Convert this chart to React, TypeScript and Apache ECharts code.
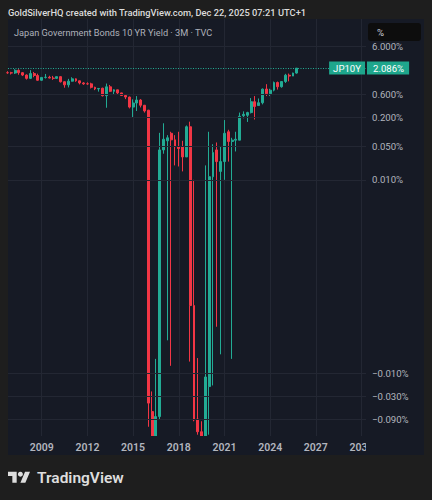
import React, { useEffect, useRef } from "react";
import * as echarts from "echarts";

// ---- Data (Japan 10Y government bond yield, quarterly candles, %) ----
const quarters = [
  "2006-Q4",
  "2007-Q1", "2007-Q2", "2007-Q3", "2007-Q4",
  "2008-Q1", "2008-Q2", "2008-Q3", "2008-Q4",
  "2009-Q1", "2009-Q2", "2009-Q3", "2009-Q4",
  "2010-Q1", "2010-Q2", "2010-Q3", "2010-Q4",
  "2011-Q1", "2011-Q2", "2011-Q3", "2011-Q4",
  "2012-Q1", "2012-Q2", "2012-Q3", "2012-Q4",
  "2013-Q1", "2013-Q2", "2013-Q3", "2013-Q4",
  "2014-Q1", "2014-Q2", "2014-Q3", "2014-Q4",
  "2015-Q1", "2015-Q2", "2015-Q3", "2015-Q4",
  "2016-Q1", "2016-Q2", "2016-Q3", "2016-Q4",
  "2017-Q1", "2017-Q2", "2017-Q3", "2017-Q4",
  "2018-Q1", "2018-Q2", "2018-Q3", "2018-Q4",
  "2019-Q1", "2019-Q2", "2019-Q3", "2019-Q4",
  "2020-Q1", "2020-Q2", "2020-Q3", "2020-Q4",
  "2021-Q1", "2021-Q2", "2021-Q3", "2021-Q4",
  "2022-Q1", "2022-Q2", "2022-Q3", "2022-Q4",
  "2023-Q1", "2023-Q2", "2023-Q3", "2023-Q4",
  "2024-Q1", "2024-Q2", "2024-Q3", "2024-Q4",
  "2025-Q1", "2025-Q2", "2025-Q3", "2025-Q4",
];

const opens = [
  1.68,
  1.675, 1.65, 1.88, 1.68,
  1.5, 1.28, 1.61, 1.47,
  1.17, 1.34, 1.35, 1.3,
  1.28, 1.39, 1.09, 0.94,
  1.12, 1.25, 1.14, 1.03,
  0.99, 0.985, 0.835, 0.775,
  0.8, 0.56, 0.855, 0.69,
  0.74, 0.64, 0.565, 0.525,
  0.325, 0.395, 0.455, 0.355,
  0.28, -0.063, -0.225, -0.08,
  0.042, 0.065, 0.093, 0.068,
  0.049, 0.049, 0.03, 0.127,
  -0.0003, -0.09, -0.165, -0.22,
  -0.019, 0.0116, 0.042, 0.015,
  0.024, 0.1, 0.063, 0.067,
  0.067, 0.215, 0.22, 0.25,
  0.42, 0.35, 0.4, 0.77,
  0.615, 0.73, 1.05, 0.86,
  1.1, 1.49, 1.43, 1.65,
];

const highs = [
  1.8,
  1.75, 1.985, 1.97, 1.73,
  1.55, 1.895, 1.74, 1.6,
  1.34, 1.58, 1.45, 1.44,
  1.4, 1.41, 1.11, 1.25,
  1.35, 1.28, 1.15, 1.07,
  1.06, 1.04, 0.86, 0.81,
  0.82, 1.0, 0.935, 0.76,
  0.745, 0.645, 0.57, 0.535,
  0.47, 0.55, 0.475, 0.36,
  0.285, -0.024, -0.005, 0.095,
  0.15, 0.085, 0.1, 0.085,
  0.1, 0.065, 0.135, 0.162,
  0.01, -0.0048, -0.1, 0.02,
  0.1, 0.055, 0.06, 0.05,
  0.175, 0.11, 0.075, 0.1,
  0.25, 0.265, 0.26, 0.5,
  0.55, 0.49, 0.79, 0.97,
  0.78, 1.1, 1.1, 1.12,
  1.59, 1.61, 1.68, 2.1,
];

const lows = [
  1.59,
  1.54, 1.58, 1.52, 1.43,
  1.21, 1.24, 1.35, 1.14,
  1.14, 1.27, 1.28, 1.19,
  1.24, 1.05, 0.82, 0.83,
  1.1, 1.09, 0.96, 0.94,
  0.94, 0.79, 0.73, 0.68,
  0.54, 0.315, 0.665, 0.585,
  0.585, 0.555, 0.475, 0.305,
  0.195, 0.27, 0.32, 0.25,
  -0.13, -0.255, -0.3, -0.09,
  0.035, -0.002, -0.007, 0.02,
  0.019, 0.015, 0.03, -0.0057,
  -0.1, -0.19, -0.295, -0.25,
  -0.19, -0.018, -0.001, -0.004,
  0.01, 0.024, -0.005, 0.039,
  0.067, 0.19, 0.16, 0.24,
  0.18, 0.35, 0.37, 0.55,
  0.55, 0.69, 0.75, 0.82,
  1.03, 1.11, 1.43, 1.6,
];

const closes = [
  1.675,
  1.65, 1.88, 1.68, 1.5,
  1.28, 1.61, 1.47, 1.17,
  1.34, 1.35, 1.3, 1.28,
  1.39, 1.09, 0.94, 1.12,
  1.25, 1.14, 1.03, 0.985,
  0.985, 0.835, 0.775, 0.79,
  0.56, 0.855, 0.69, 0.74,
  0.64, 0.565, 0.525, 0.325,
  0.395, 0.455, 0.355, 0.27,
  -0.042, -0.225, -0.08, 0.042,
  0.07, 0.075, 0.068, 0.049,
  0.045, 0.03, 0.127, -0.0003,
  -0.094, -0.165, -0.215, -0.012,
  0.0116, 0.037, 0.024, 0.024,
  0.093, 0.063, 0.067, 0.07,
  0.21, 0.23, 0.25, 0.42,
  0.335, 0.4, 0.765, 0.615,
  0.73, 1.05, 0.86, 1.1,
  1.49, 1.43, 1.65, 2.086,
];

const yTickValues = [6, 0.6, 0.2, 0.05, 0.01, -0.01, -0.03, -0.09];
const xTickYears = [2009, 2012, 2015, 2018, 2021, 2024, 2027, 2030];
const symbolName = "JP10Y";
const lastPrice = 2.086;

const headerText = "GoldSilverHQ created with TradingView.com, Dec 22, 2025 07:21 UTC+1";
const titleText = "Japan Government Bonds 10 YR Yield \u00b7 3M \u00b7 TVC";

// ---- Styling ----
const OUTER_BG = "#1e1e1e";
const PANEL_BG = "#161a25";
const GRID_COLOR = "#232733";
const UP = "#22ab94";
const DOWN = "#f23645";
const TAG_BG = "#1ea68c";
const LABEL_COLOR = "#b2b5be";
const FONT = "Roboto, 'Noto Sans', sans-serif";

// TradingView-style log transform (handles negative values)
const T = (v: number) =>
  Math.abs(v) < 1e-15 ? 0 : Math.sign(v) * (Math.log10(Math.abs(v) + 1e-4) + 4);
const invT = (t: number) =>
  Math.abs(t) < 1e-12 ? 0 : Math.sign(t) * (Math.pow(10, Math.abs(t) - 4) - 1e-4);
const fmtPct = (v: number) => {
  const s = Math.abs(v).toFixed(3) + "%";
  return v < 0 ? "\u2212" + s : s;
};

const BASE_YEAR = 2009;
const quarterX = (q: string) => {
  const [y, qq] = q.split("-Q");
  return Number(y) + (Number(qq) - 1) / 4 - BASE_YEAR;
};

const TV_LOGO = "M14 22H7V11H0V4h14v18zM28 22h-8l7.5-18h8L28 22z";

const X_MIN = -2.213;
const X_MAX = 21.294;

export default function App() {
  const ref = useRef<HTMLDivElement>(null);

  useEffect(() => {
    if (!ref.current) return;
    try {
      echarts.graphic.registerShape("tvlogo", echarts.graphic.extendPath(TV_LOGO, {}) as any);
    } catch (e) {}
    const chart = echarts.init(ref.current, null, { renderer: "svg" });

    const data = quarters.map((q, i) => [
      quarterX(q),
      T(opens[i]),
      T(closes[i]),
      T(lows[i]),
      T(highs[i]),
    ]);
    const xTicks = xTickYears.map((y) => y - BASE_YEAR);

    const tagLabel = {
      show: true,
      color: "#ffffff",
      backgroundColor: TAG_BG,
      fontFamily: FONT,
      fontSize: 9.6,
      lineHeight: 11,
      distance: [1, 0],
    };

    const option: any = {
      animation: false,
      backgroundColor: "transparent",
      grid: { left: 8, top: 19, width: 358, height: 417, containLabel: false },
      xAxis: [
        {
          // grid lines
          type: "value",
          min: X_MIN,
          max: X_MAX,
          z: 0,
          axisLine: { show: false },
          axisTick: { show: false, customValues: xTicks },
          axisLabel: { show: false, customValues: xTicks },
          splitLine: { show: true, lineStyle: { color: GRID_COLOR, width: 1 } },
        },
        {
          // time labels (drawn above the time-axis pane)
          type: "value",
          min: X_MIN,
          max: X_MAX,
          position: "bottom",
          z: 10,
          axisLine: { show: false },
          axisTick: { show: false, customValues: xTicks },
          splitLine: { show: false },
          axisLabel: {
            customValues: xTicks,
            formatter: (v: number) => String(Math.round(v + BASE_YEAR)),
            color: LABEL_COLOR,
            fontFamily: FONT,
            fontSize: 10.5,
            fontWeight: 600,
            margin: 6,
          },
        },
      ],
      yAxis: {
        type: "value",
        position: "right",
        min: -3.306,
        max: 5.338,
        z: 10,
        axisLine: { show: false },
        axisTick: { show: false, customValues: yTickValues.map(T) },
        axisLabel: {
          customValues: yTickValues.map(T),
          formatter: (v: number) => fmtPct(invT(v)),
          color: LABEL_COLOR,
          fontFamily: FONT,
          fontSize: 9.6,
          margin: 6,
        },
        splitLine: { show: true, lineStyle: { color: GRID_COLOR, width: 1 } },
      },
      series: [
        {
          type: "candlestick",
          xAxisIndex: 0,
          data,
          barWidth: 2.4,
          clip: true,
          z: 2,
          itemStyle: {
            color: UP,
            color0: DOWN,
            borderColor: UP,
            borderColor0: DOWN,
            borderWidth: 1,
          },
          markLine: {
            silent: true,
            symbol: ["none", "none"],
            animation: false,
            data: [
              {
                yAxis: T(lastPrice),
                lineStyle: { color: UP, width: 1, type: [1, 1.5] },
                label: {
                  ...tagLabel,
                  position: "insideEnd",
                  formatter: symbolName,
                  padding: [1, 4, 1, 4],
                },
              },
              {
                yAxis: T(lastPrice),
                lineStyle: { color: "rgba(0,0,0,0)", width: 1 },
                label: {
                  ...tagLabel,
                  position: "end",
                  formatter: fmtPct(lastPrice),
                  padding: [1, 5, 1, 6],
                },
              },
            ],
          },
        },
      ],
      graphic: [
        {
          // time-axis pane (candles are cut off at the bottom of the price pane)
          type: "rect",
          x: 8,
          y: 436,
          z: 5,
          shape: { width: 416, height: 19 },
          style: { fill: PANEL_BG },
        },
        {
          type: "text",
          x: 8,
          y: 12,
          z: 50,
          style: {
            text: headerText,
            fill: "#dcdcdc",
            font: `500 9.3px ${FONT}`,
            verticalAlign: "middle",
          },
        },
        {
          type: "text",
          x: 14,
          y: 32,
          z: 50,
          style: {
            text: titleText,
            fill: "#aeb1ba",
            font: `9.2px ${FONT}`,
            verticalAlign: "middle",
          },
        },
        {
          type: "rect",
          x: 368,
          y: 23,
          z: 60,
          shape: { width: 53, height: 18, r: 3 },
          style: { fill: "#0d0d0d" },
        },
        {
          type: "text",
          x: 377,
          y: 32,
          z: 61,
          style: {
            text: "%",
            fill: "#d1d4dc",
            font: `9.6px ${FONT}`,
            verticalAlign: "middle",
          },
        },
        {
          // time labels stop at the price scale; hides overflow of the last label
          type: "rect",
          x: 366,
          y: 437,
          z: 60,
          shape: { width: 58, height: 18 },
          style: { fill: PANEL_BG },
        },
        {
          type: "tvlogo",
          x: 8,
          y: 469.2,
          scaleX: 0.62,
          scaleY: 0.62,
          z: 50,
          style: { fill: "#dedede" },
        },
        {
          type: "circle",
          z: 50,
          shape: { cx: 20.4, cy: 474.2, r: 2.5 },
          style: { fill: "#dedede" },
        },
        {
          type: "text",
          x: 37,
          y: 478,
          z: 50,
          style: {
            text: "TradingView",
            fill: "#dedede",
            font: `600 15.5px ${FONT}`,
            verticalAlign: "middle",
          },
        },
      ],
    };

    chart.setOption(option);
    return () => chart.dispose();
  }, []);

  return (
    <div
      style={{
        position: "fixed",
        left: 0,
        top: 0,
        width: 432,
        height: 500,
        background: OUTER_BG,
        overflow: "hidden",
      }}
    >
      <div
        style={{
          position: "absolute",
          left: 8,
          top: 19,
          width: 416,
          height: 436,
          background: PANEL_BG,
        }}
      />
      <div
        ref={ref}
        style={{ position: "absolute", left: 0, top: 0, width: 432, height: 500 }}
      />
    </div>
  );
}
